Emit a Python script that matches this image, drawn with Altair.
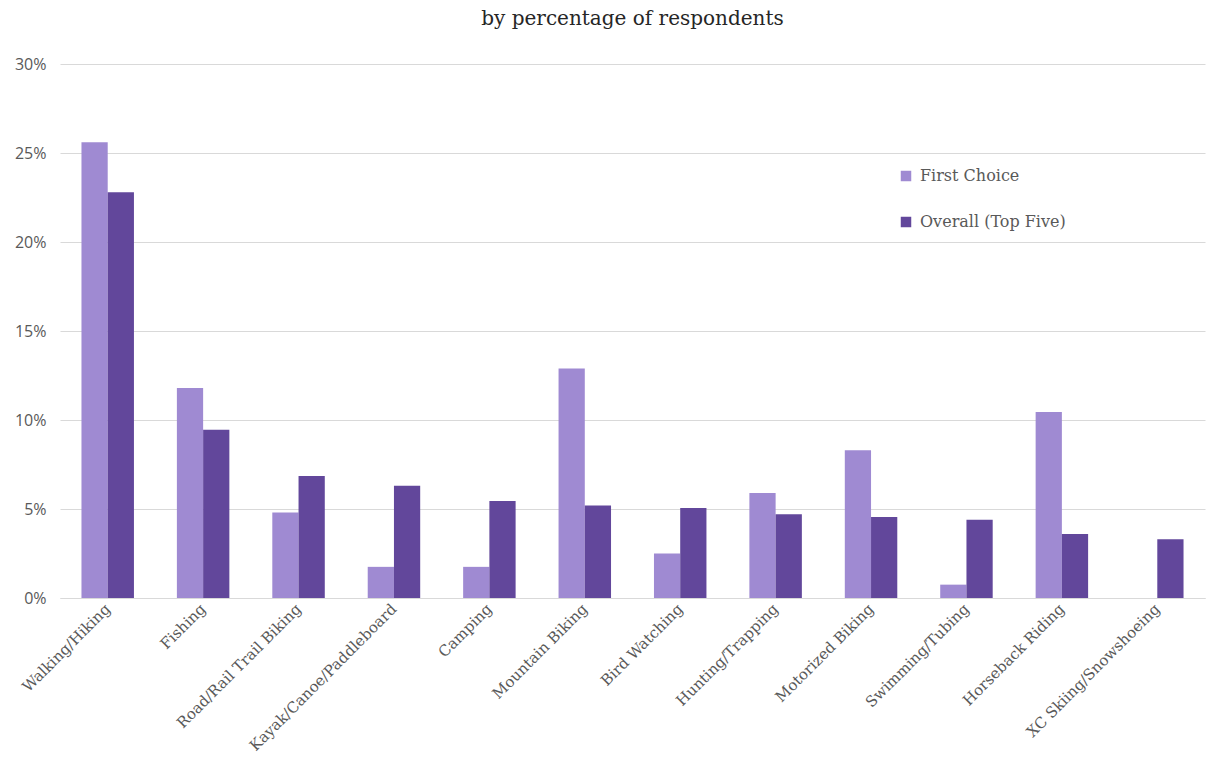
import altair as alt
import pandas as pd

categories = ["Walking/Hiking", "Fishing", "Road/Rail Trail Biking", "Kayak/Canoe/Paddleboard",
              "Camping", "Mountain Biking", "Bird Watching", "Hunting/Trapping",
              "Motorized Biking", "Swimming/Tubing", "Horseback Riding", "XC Skiing/Snowshoeing"]
first_choice = [25.6, 11.8, 4.8, 1.75, 1.75, 12.9, 2.5, 5.9, 8.3, 0.75, 10.45, 0.0]
overall_top5 = [22.8, 9.45, 6.85, 6.3, 5.45, 5.2, 5.05, 4.7, 4.55, 4.4, 3.6, 3.3]
series = ["First Choice", "Overall (Top Five)"]
colors = ["#9f8ad2", "#62479b"]

rows = []
for c, a, b in zip(categories, first_choice, overall_top5):
    rows.append({"cat": c, "series": series[0], "val": a / 100})
    rows.append({"cat": c, "series": series[1], "val": b / 100})
df = pd.DataFrame(rows)

chart = alt.Chart(df).mark_bar().encode(
    x=alt.X("cat:N", sort=categories, title=None,
            scale=alt.Scale(paddingInner=0.45, paddingOuter=0.225),
            axis=alt.Axis(labelAngle=-45, labelFont="DejaVu Serif", labelFontSize=15,
                          labelColor="#595959", ticks=False, domainColor="#d9d9d9",
                          labelPadding=8, labelAlign="right", labelBaseline="middle",
                          labelLimit=0)),
    xOffset=alt.XOffset("series:N", sort=series),
    y=alt.Y("val:Q", title=None,
            scale=alt.Scale(domain=[0, 0.30]),
            axis=alt.Axis(format=".0%", values=[0, 0.05, 0.10, 0.15, 0.20, 0.25, 0.30],
                          labelFont="Open Sans", labelFontSize=16, labelColor="#595959",
                          ticks=False, domain=False, gridColor="#d9d9d9",
                          labelPadding=14)),
    color=alt.Color("series:N", sort=series,
                    scale=alt.Scale(domain=series, range=colors),
                    legend=alt.Legend(title=None, orient="none", legendX=838, legendY=104,
                                      symbolType="square", symbolSize=110, symbolStrokeWidth=0,
                                      labelFont="DejaVu Serif", labelFontSize=16,
                                      labelColor="#595959", rowPadding=30, labelOffset=6)),
).properties(
    width=1145, height=534,
    background="white",
    title=alt.Title("by percentage of respondents", font="DejaVu Serif", fontSize=20,
                    fontWeight="normal", color="#262626", anchor="middle", offset=27),
    autosize=alt.AutoSizeParams(type="none"),
    padding={"left": 60, "top": 64, "right": 2, "bottom": 169},
).configure_view(stroke=None, strokeWidth=0)

chart.save("out.html", embed_options={"renderer": "svg", "actions": False})
